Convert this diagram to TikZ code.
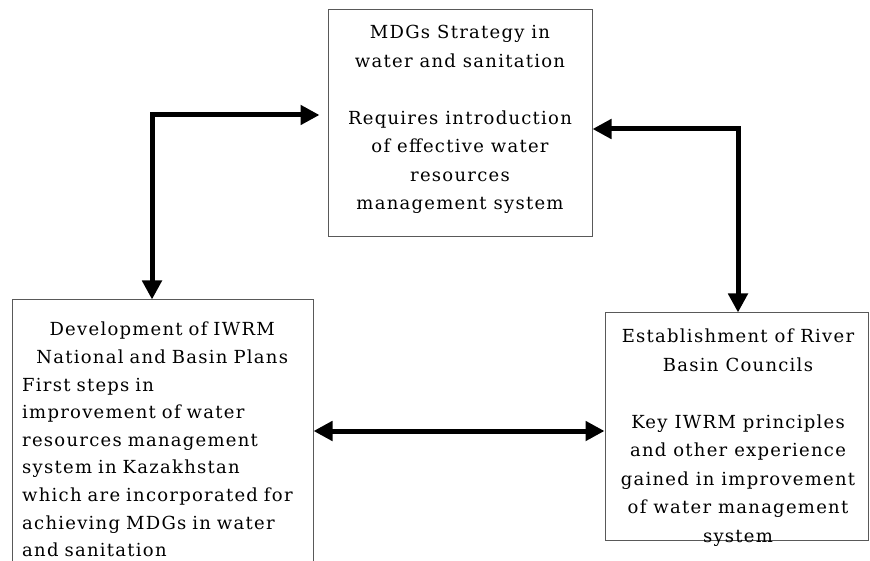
\documentclass[tikz,border=0pt]{standalone}
\usepackage{fontspec}
\setmainfont[LetterSpace=7]{DejaVu Serif}
\usetikzlibrary{arrows.meta}
\begin{document}
\begin{tikzpicture}[x=1pt,y=-1pt,
  box/.style={draw=black!65, line width=1pt, rectangle, inner sep=0pt},
  txt/.style={inner sep=0pt, font=\fontsize{18}{28.5}\selectfont},
  link/.style={line width=5pt, line join=miter,
    {Triangle[length=19pt,width=19pt]}-{Triangle[length=19pt,width=19pt]}}]
\useasboundingbox (0,0) rectangle (870,561);
\clip (0,0) rectangle (870,561);
% boxes
\node[box, minimum width=264pt, minimum height=227pt] (top) at (460,123.5) {};
\node[box, minimum width=301pt, minimum height=320pt] (left) at (162.5,460) {};
\node[box, minimum width=263pt, minimum height=227pt] (right) at (736.5,426.5) {};
% texts
\node[txt, anchor=north, align=center] (toptext) at (460,25)
  {MDGs Strategy in\\
   water and sanitation\\[28.5pt]
   Requires introduction\\
   of effective water\\
   resources\\
   management system};
\node[txt, anchor=north west, text width=288pt, align=left,
      font=\fontsize{18}{27.6}\selectfont] (lefttext) at (22,322)
  {\makebox[280pt]{Development of IWRM}\\
   \makebox[280pt]{National and Basin Plans}\\
   First steps in\\
   improvement of water\\
   resources management\\
   system in Kazakhstan\\
   which are incorporated for\\
   achieving MDGs in water\\
   and sanitation};
\node[txt, anchor=north, align=center] (righttext) at (738,329)
  {Establishment of River\\
   Basin Councils\\[28.5pt]
   Key IWRM principles\\
   and other experience\\
   gained in improvement\\
   of water management\\
   system};
% connectors
\coordinate (c1) at (152,115);
\coordinate (c2) at (738,129);
\coordinate (c3) at (460,431);
\draw[link] (left.north -| c1) -- (c1) -- ([xshift=-8pt]top.west |- c1);
\draw[link] (top.east |- c2) -- (c2) -- (right.north -| c2);
\draw[link] (left.east |- c3) -- (right.west |- c3);
\end{tikzpicture}
\end{document}
